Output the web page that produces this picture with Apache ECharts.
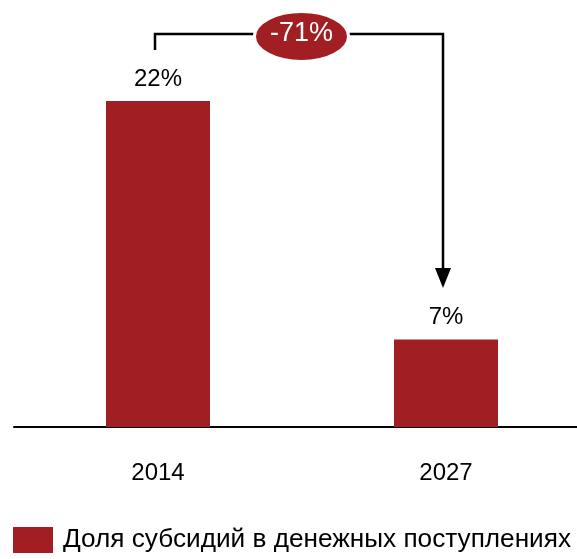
<!DOCTYPE html>
<html>
<head>
<meta charset="utf-8">
<script src="https://cdn.jsdelivr.net/npm/echarts@6/dist/echarts.min.js"></script>
<style>
  html, body { margin: 0; padding: 0; background: #fff; }
  #chart { width: 577px; height: 559px; }
</style>
</head>
<body>
<div id="chart"></div>
<script>
// chart data
const years = ['2014', '2027'];
const shares = [22, 5.9];          // bar heights
const shareLabels = ['22%', '7%']; // labels printed above the bars
const changeLabel = '-71%';
const seriesName = 'Доля субсидий в денежных поступлениях';

const red = '#A11F22';
const font = "'Liberation Sans', Arial, sans-serif";

var myChart = echarts.init(document.getElementById('chart'));

let option = {
    backgroundColor: '#FFFFFF',
    animation: false,
    grid: { left: 14, right: -13, top: 56.5, bottom: 132, outerBoundsMode: 'none' },
    legend: {
        left: 13,
        top: 527,
        padding: 0,
        itemWidth: 40,
        itemHeight: 26,
        icon: 'rect',
        data: [seriesName],
        textStyle: { color: '#000', fontSize: 26.2, fontFamily: font, padding: [0, 0, 0, 5] }
    },
    xAxis: {
        type: 'category',
        data: years,
        axisTick: { show: false },
        axisLine: { lineStyle: { color: '#000', width: 2 } },
        axisLabel: { margin: 34, color: '#000', fontSize: 24, fontFamily: font }
    },
    yAxis: {
        type: 'value',
        min: 0,
        max: 25,
        show: false
    },
    series: [
        {
            name: seriesName,
            type: 'bar',
            barWidth: 104,
            data: shares,
            itemStyle: { color: red },
            label: {
                show: true,
                position: 'top',
                distance: 10,
                color: '#000',
                fontSize: 24,
                fontFamily: font,
                formatter: (p) => shareLabels[p.dataIndex]
            }
        }
    ]
};
myChart.setOption(option);

// bracket arrow with the change badge, anchored to the bars
let p1 = myChart.convertToPixel({ seriesIndex: 0 }, [0, shares[0]]);
let p2 = myChart.convertToPixel({ seriesIndex: 0 }, [1, shares[1]]);
let x1 = p1[0] - 3, x2 = p2[0] - 3;
let yTop = 34;
let midX = 301.5;
let line = { stroke: '#000', lineWidth: 2.5, fill: null };

myChart.setOption({
    graphic: [
        { type: 'polyline', shape: { points: [[x1, 50], [x1, yTop], [midX, yTop]] }, style: line },
        { type: 'polyline', shape: { points: [[midX, yTop], [x2, yTop], [x2, 270]] }, style: line },
        { type: 'polygon', shape: { points: [[x2 - 8, 268], [x2 + 8, 268], [x2, 288]] }, style: { fill: '#000' } },
        {
            type: 'ellipse',
            shape: { cx: midX, cy: 36.5, rx: 47, ry: 25 },
            style: { fill: red, stroke: '#fff', lineWidth: 3 }
        },
        {
            type: 'text',
            x: midX, y: 34,
            style: {
                text: changeLabel, fill: '#fff', fontSize: 27, fontFamily: font,
                align: 'center', verticalAlign: 'middle'
            }
        }
    ]
});
</script>
</body>
</html>
